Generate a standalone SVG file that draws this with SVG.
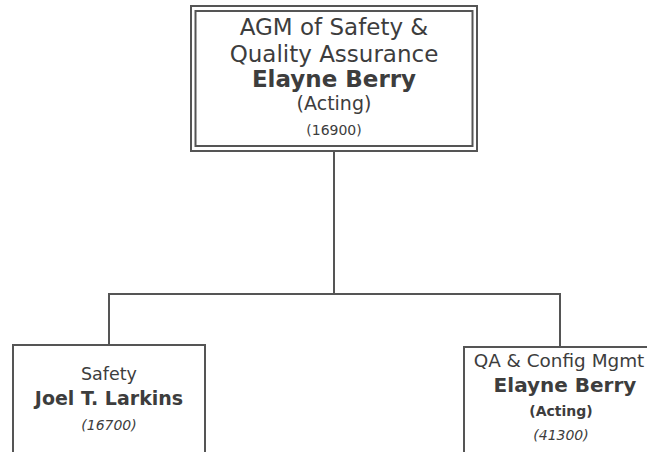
<svg xmlns="http://www.w3.org/2000/svg" width="647" height="452" viewBox="0 0 647 452">
  <style>
    .box { fill: #fff; stroke: #555; stroke-width: 2; }
    .link { fill: none; stroke: #555; stroke-width: 2; }
    text { font-family: "DejaVu Sans", Verdana, sans-serif; fill: #3d3d3d; text-anchor: middle; }
    .b { font-weight: bold; }
    .i { font-style: italic; }
  </style>
  <rect width="647" height="452" fill="#fff"/>

  <!-- connectors -->
  <g id="connectors">
    <path class="link" d="M334 151 V294"/>
    <path class="link" d="M109 345 V294 H560 V347"/>
  </g>

  <!-- head of department (double border) -->
  <g id="agm">
    <rect class="box" x="191" y="6" width="286" height="145"/>
    <rect class="box" x="195.5" y="11" width="277" height="135"/>
    <text x="334" y="35" font-size="23">AGM of Safety &amp;</text>
    <text x="334" y="62" font-size="23">Quality Assurance</text>
    <text x="334" y="87" font-size="23" class="b">Elayne Berry</text>
    <text x="334" y="110" font-size="19">(Acting)</text>
    <text x="334" y="135" font-size="14">(16900)</text>
  </g>

  <g id="safety">
    <rect class="box" x="13" y="345" width="192" height="120"/>
    <text x="109" y="380" font-size="17.5">Safety</text>
    <text x="109" y="405" font-size="19" class="b">Joel T. Larkins</text>
    <text x="109" y="430" font-size="14" class="i">(16700)</text>
  </g>

  <g id="qa-config">
    <rect class="box" x="464" y="347" width="194" height="120"/>
    <text x="559" y="367" font-size="18.4">QA &amp; Config Mgmt</text>
    <text x="565" y="392" font-size="20" class="b">Elayne Berry</text>
    <text x="561" y="416" font-size="14" class="b">(Acting)</text>
    <text x="561" y="440" font-size="14" class="i">(41300)</text>
  </g>
</svg>
